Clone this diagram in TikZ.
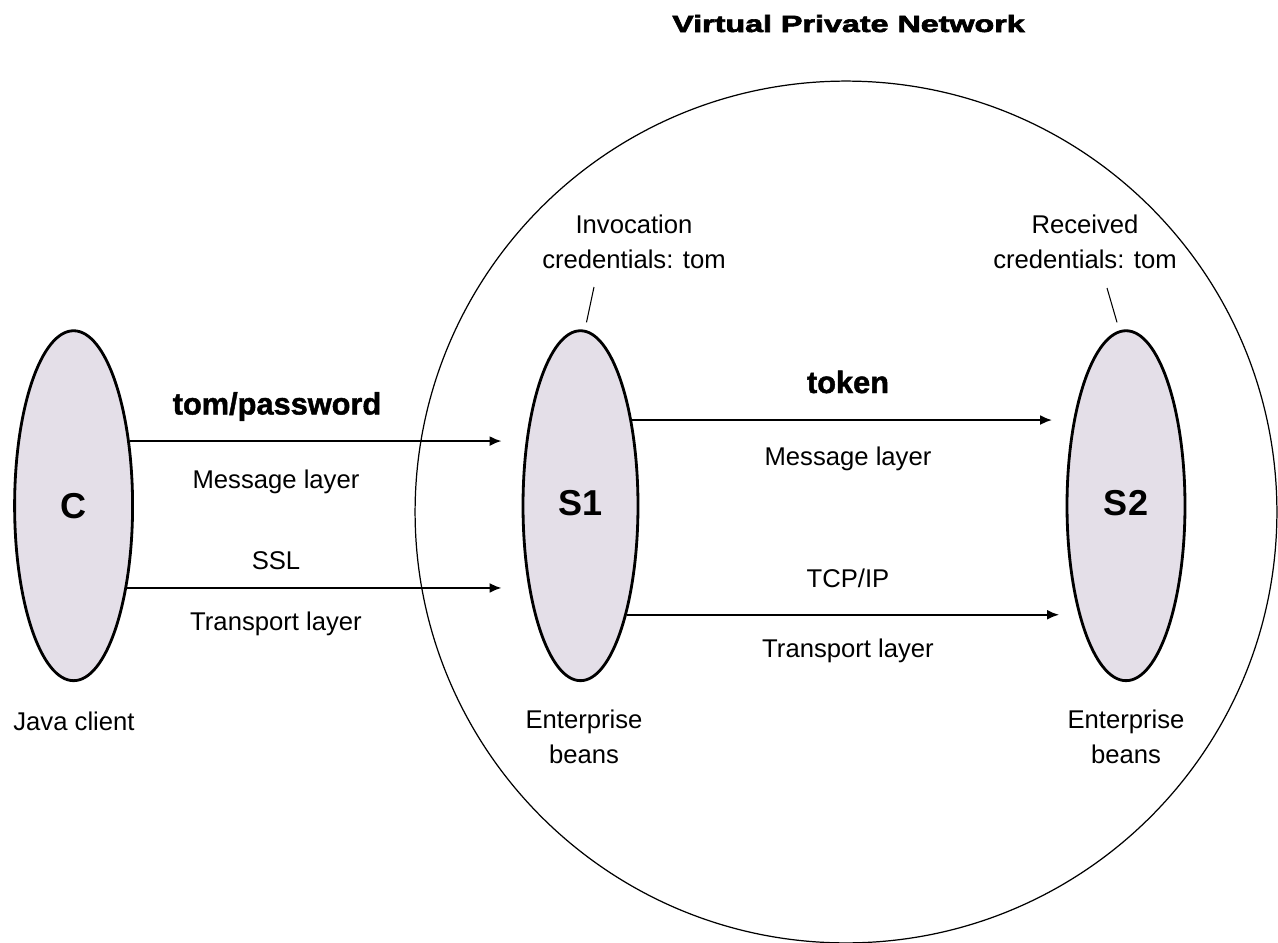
\documentclass[tikz,border=0pt]{standalone}
\usepackage{fontspec}
\setmainfont{Liberation Sans}
\newfontfamily\blackfont[FakeBold=1.5]{Liberation Sans Bold}
\newfontfamily\titlefont[FakeBold=2.5]{Liberation Sans Bold}
\usetikzlibrary{arrows.meta,shapes.geometric}

\definecolor{beanfill}{RGB}{228,223,232}

\tikzset{
  bean/.style={ellipse,draw,line width=1.6pt,fill=beanfill,minimum width=2.36cm,
    minimum height=7cm,inner sep=0pt,font=\fontsize{20.5}{24}\selectfont\bfseries},
  lbl/.style={font=\fontsize{14.6}{19.8}\selectfont,align=center,inner sep=0pt},
  heavy/.style={font=\fontsize{17.5}{20}\selectfont\blackfont,inner sep=0pt},
  flow/.style={-{Latex[length=0.24cm,width=0.2cm]},line width=1.2pt},
}

\begin{document}
\begin{tikzpicture}[x=0.02cm,y=-0.02cm]
  \useasboundingbox (0,0) rectangle (1278,943);

  % Kreis (VPN)
  \node[circle,draw,line width=0.7pt,minimum size=17.24cm,inner sep=0pt] (vpn) at (846,512) {};
  \node[font=\fontsize{13.4}{16}\selectfont\titlefont,inner sep=0pt,anchor=base] (vpntitle) at (848.5,32)
    {\scalebox{1.37}[1]{Virtual Private Network}};

  % Ellipsen
  \node[bean] (C)  at (73.6,505.7) {\raisebox{-0.16cm}{C}};
  \node[bean,minimum width=2.3cm] (S1) at (580.5,505.7) {\raisebox{0.1cm}{S1}};
  \node[bean] (S2) at (1126,505.7) {\raisebox{0.1cm}{S2}};

  % Pfeile C -> S1
  \draw[flow,shorten >=0.4cm] (C.49) -- (C.49 -| S1.west);
  \draw[flow,shorten >=0.4cm] (C.-57) -- (C.-57 -| S1.west);

  % Pfeile S1 -> S2
  \draw[flow,shorten >=0.27cm] (S1.59) -- (S1.59 -| S2.west);
  \draw[flow,shorten >=0.13cm] (S1.-67) -- (S1.-67 -| S2.west);

  % Beschriftungen C -> S1
  \node[heavy,anchor=base] (pw) at (277,414.5) {tom/password};
  \node[lbl,anchor=base] (msg1) at (276,488.4) {Message layer};
  \node[lbl,anchor=base] (ssl) at (276,569.6) {SSL};
  \node[lbl,anchor=base] (tra1) at (276,630) {Transport layer};

  % Beschriftungen S1 -> S2
  \node[heavy,anchor=base] (tok) at (848,393) {token};
  \node[lbl,anchor=base] (msg2) at (848,465) {Message layer};
  \node[lbl,anchor=base] (tcp) at (848,587) {TCP/IP};
  \node[lbl,anchor=base] (tra2) at (848,657) {Transport layer};

  % Credentials
  \node[lbl] (inv) at (634,242) {Invocation\\credentials: tom};
  \node[lbl] (rec) at (1085,242) {Received\\credentials: tom};
  \draw[line width=0.6pt] (594,287) -- ([xshift=0.12cm,yshift=0.14cm]S1.north);
  \draw[line width=0.6pt] (1107,288) -- ([xshift=-0.18cm,yshift=0.14cm]S2.north);

  % Unterschriften
  \node[lbl,anchor=base] (jc) at (74,730) {Java client};
  \node[lbl] (eb1) at (584,737) {Enterprise\\beans};
  \node[lbl] (eb2) at (1126,737) {Enterprise\\beans};
\end{tikzpicture}
\end{document}
